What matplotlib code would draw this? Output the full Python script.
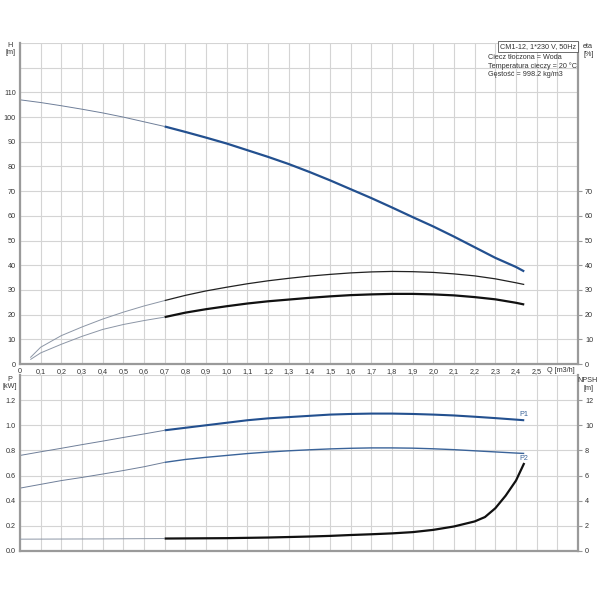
import matplotlib
matplotlib.use("Agg")
import matplotlib.pyplot as plt
import numpy as np

plt.rcParams['font.family'] = ['Liberation Sans', 'DejaVu Sans']

# flow values [m3/h]
q = [0.0, 0.1, 0.2, 0.3, 0.4, 0.5, 0.6, 0.7, 0.8, 0.9, 1.0, 1.1, 1.2, 1.3, 1.4,
     1.5, 1.6, 1.7, 1.8, 1.9, 2.0, 2.1, 2.2, 2.3, 2.4, 2.44]
head = [107.0, 105.9, 104.6, 103.2, 101.7, 100.0, 98.1, 96.2, 94.0, 91.7, 89.3,
        86.6, 83.9, 81.0, 77.8, 74.4, 70.8, 67.2, 63.4, 59.5, 55.7, 51.6, 47.3,
        43.0, 39.3, 37.5]
q_eta = [0.05, 0.1, 0.2, 0.3, 0.4, 0.5, 0.6, 0.7, 0.8, 0.9, 1.0, 1.1, 1.2, 1.3,
         1.4, 1.5, 1.6, 1.7, 1.8, 1.9, 2.0, 2.1, 2.2, 2.3, 2.4, 2.44]
eta_pump = [2.6, 6.8, 11.5, 15.0, 18.2, 21.0, 23.5, 25.7, 27.8, 29.6, 31.1, 32.5,
            33.7, 34.7, 35.6, 36.3, 36.9, 37.3, 37.5, 37.4, 37.1, 36.5, 35.7,
            34.5, 32.9, 32.2]
eta_total = [1.8, 4.5, 8.0, 11.2, 14.0, 16.0, 17.6, 19.0, 20.8, 22.2, 23.4, 24.5,
             25.4, 26.1, 26.8, 27.4, 27.9, 28.2, 28.4, 28.4, 28.2, 27.8, 27.1,
             26.2, 24.8, 24.1]
p1 = [0.76, 0.789, 0.817, 0.846, 0.874, 0.903, 0.931, 0.96, 0.98, 1.0, 1.02,
      1.04, 1.055, 1.065, 1.075, 1.085, 1.09, 1.093, 1.093, 1.09, 1.085, 1.078,
      1.068, 1.057, 1.045, 1.04]
p2 = [0.50, 0.53, 0.56, 0.585, 0.612, 0.64, 0.67, 0.705, 0.728, 0.745, 0.76,
      0.775, 0.787, 0.797, 0.805, 0.812, 0.817, 0.82, 0.82, 0.818, 0.813, 0.806,
      0.797, 0.788, 0.779, 0.776]
q_npsh = [0.0, 0.2, 0.4, 0.6, 0.7, 0.8, 1.0, 1.2, 1.4, 1.5, 1.6, 1.7, 1.8, 1.9,
          2.0, 2.1, 2.2, 2.25, 2.3, 2.35, 2.4, 2.44]
npsh = [0.94, 0.95, 0.96, 0.98, 0.99, 1.0, 1.02, 1.07, 1.15, 1.2, 1.27, 1.33,
        1.4, 1.5, 1.68, 1.95, 2.35, 2.7, 3.4, 4.4, 5.6, 7.0]

q_split = 0.7
info_title = "CM1-12, 1*230 V, 50Hz"
info_lines = "Ciecz tłoczona = Woda\nTemperatura cieczy = 20 °C\nGęstość = 998.2 kg/m3"

BLUE = "#23508f"
THIN = "#8c96a6"
GRID = "#d4d4d4"
SPINE = "#9a9a9a"
TXT = "#333333"
FS = 5.2


def split_plot(ax, x, y, color, lw, thin_color=THIN):
    x = np.asarray(x)
    y = np.asarray(y)
    m1 = x <= q_split + 1e-9
    m2 = x >= q_split - 1e-9
    ax.plot(x[m1], y[m1], color=thin_color, lw=0.7, solid_capstyle='butt')
    ax.plot(x[m2], y[m2], color=color, lw=lw, solid_capstyle='butt')


def style(ax):
    for s in ['left', 'bottom', 'right']:
        ax.spines[s].set_color(SPINE)
        ax.spines[s].set_linewidth(1.6)
    ax.spines['top'].set_visible(False)
    ax.set_xlim(0, 2.7)
    ax.set_xticks(np.arange(0, 2.71, 0.1))
    ax.grid(True, color=GRID, lw=0.8)
    ax.set_axisbelow(True)
    ax.tick_params(axis='both', labelsize=FS, length=0, pad=3, colors=TXT)


fig = plt.figure(figsize=(6, 6), dpi=100)
ax1 = fig.add_axes([0.0333, 0.3933, 0.93, 0.535])
ax2 = fig.add_axes([0.0333, 0.0817, 0.93, 0.2933])

# top panel: head + efficiency
style(ax1)
ax1.set_ylim(0, 130)
ax1.set_yticks(np.arange(0, 131, 10))
ax1.set_yticklabels([str(v) if v <= 110 else "" for v in range(0, 131, 10)])
xl = ["0"] + [f"{v:.1f}".replace(".", ",") for v in np.arange(0.1, 2.51, 0.1)] + ["", ""]
ax1.set_xticklabels(xl)
split_plot(ax1, q, head, BLUE, 1.6, thin_color="#6f7f99")
split_plot(ax1, q_eta, eta_pump, "#222222", 0.9)
split_plot(ax1, q_eta, eta_total, "#111111", 1.6)

r1 = ax1.twinx()
r1.set_ylim(0, 130)
r1.set_yticks(np.arange(0, 71, 10))
r1.tick_params(axis='y', labelsize=FS, length=3, width=0.8, color=SPINE, colors=TXT, pad=2)
for s in r1.spines.values():
    s.set_visible(False)

fig.text(561 / 600, 1 - 370 / 600, "Q [m3/h]", fontsize=FS, ha='center', va='center', color=TXT)
fig.text(10 / 600, 1 - 42 / 600, "H\n[m]", fontsize=FS, ha='center', va='top',
         color=TXT, multialignment='center', linespacing=1.1)
fig.text(583 / 600, 1 - 43 / 600, "eta\n[%]", fontsize=FS, ha='left', va='top',
         color=TXT, linespacing=1.1)
fig.text(576 / 600, 1 - 43 / 600, info_title, fontsize=FS, ha='right', va='top',
         color=TXT, bbox=dict(boxstyle='square,pad=0.3', fc='white', ec='#555555', lw=0.6))
fig.text(488 / 600, 1 - 54 / 600, info_lines, fontsize=FS, ha='left', va='top',
         color=TXT, linespacing=1.2)

# bottom panel: power + NPSH
style(ax2)
ax2.set_ylim(0, 1.4)
ax2.set_yticks(np.arange(0, 1.41, 0.2))
ax2.set_yticklabels([f"{v:.1f}" if v < 1.3 else "" for v in np.arange(0, 1.41, 0.2)])
ax2.set_xticklabels([])
split_plot(ax2, q, p1, BLUE, 1.5, thin_color="#6f7f99")
split_plot(ax2, q, p2, "#3a6399", 1.0, thin_color="#6f7f99")
ax2.text(2.44, p1[-1] + 0.015, "P1", fontsize=FS, color="#3a6399", ha='center', va='bottom')
ax2.text(2.44, p2[-1] - 0.01, "P2", fontsize=FS, color="#3a6399", ha='center', va='top')

r2 = ax2.twinx()
r2.set_ylim(0, 14)
r2.set_yticks(np.arange(0, 13, 2))
r2.tick_params(axis='y', labelsize=FS, length=3, width=0.8, color=SPINE, colors=TXT, pad=2)
for s in r2.spines.values():
    s.set_visible(False)
split_plot(r2, q_npsh, npsh, "#111111", 1.6)

fig.text(10 / 600, 1 - 376 / 600, "P\n[kW]", fontsize=FS, ha='center', va='top',
         color=TXT, multialignment='center', linespacing=1.1)
fig.text(588 / 600, 1 - 377 / 600, "NPSH\n[m]", fontsize=FS, ha='center', va='top',
         color=TXT, multialignment='center', linespacing=1.1)

fig.savefig("out.png", dpi=100)
